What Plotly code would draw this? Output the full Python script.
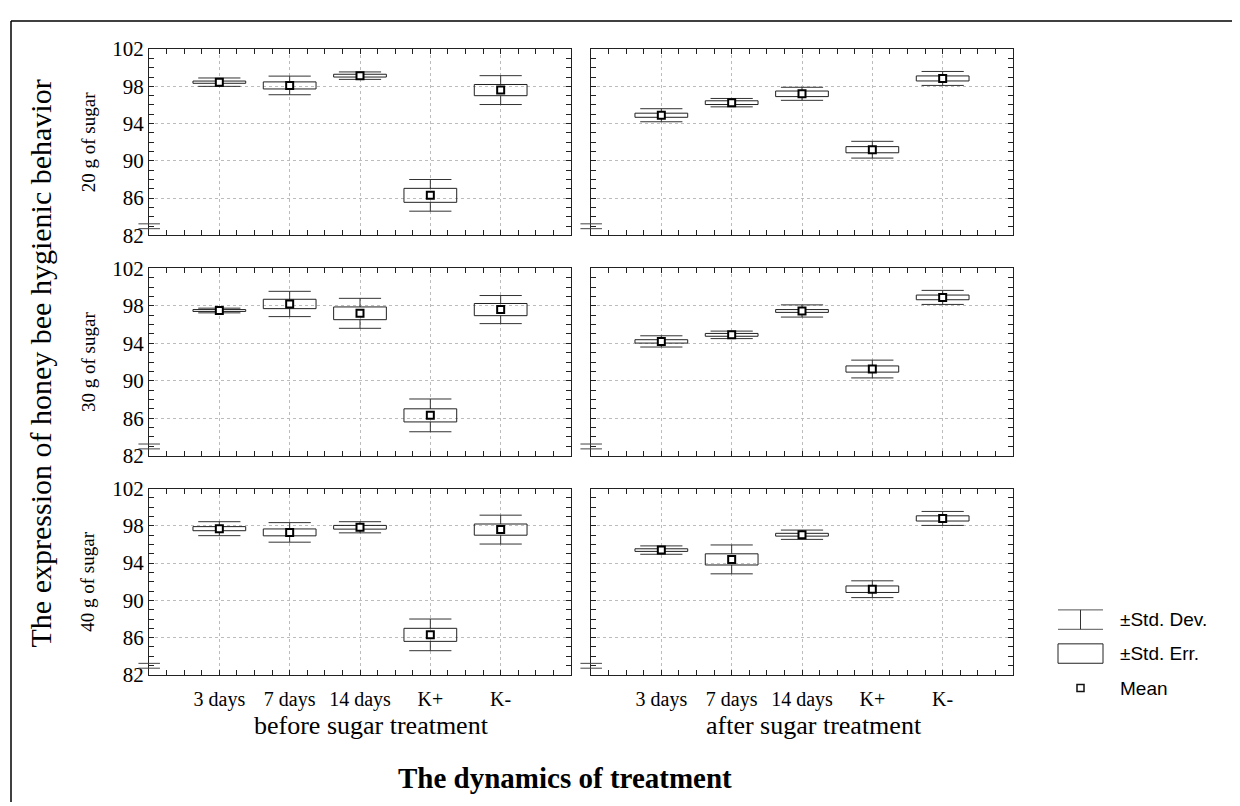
import plotly.graph_objects as go

categories = ["3 days", "7 days", "14 days", "K+", "K-"]
group_labels = ["before sugar treatment", "after sugar treatment"]
row_labels = ["20 g of sugar", "30 g of sugar", "40 g of sugar"]
y_ticks = [82, 86, 90, 94, 98, 102]

mean_20_before = [98.45, 98.1, 99.15, 86.3, 97.6]
se_20_before = [0.12, 0.38, 0.15, 0.75, 0.6]
sd_20_before = [0.45, 1.0, 0.4, 1.7, 1.55]

mean_20_after = [94.9, 96.25, 97.2, 91.2, 98.85]
se_20_after = [0.22, 0.2, 0.3, 0.33, 0.27]
sd_20_after = [0.7, 0.45, 0.7, 0.9, 0.75]

mean_30_before = [97.5, 98.2, 97.2, 86.3, 97.6]
se_30_before = [0.1, 0.5, 0.68, 0.7, 0.65]
sd_30_before = [0.25, 1.35, 1.6, 1.75, 1.5]

mean_30_after = [94.2, 94.9, 97.45, 91.25, 98.9]
se_30_after = [0.18, 0.15, 0.15, 0.33, 0.25]
sd_30_after = [0.6, 0.4, 0.65, 0.95, 0.75]

mean_40_before = [97.7, 97.3, 97.85, 86.3, 97.6]
se_40_before = [0.22, 0.37, 0.2, 0.7, 0.6]
sd_40_before = [0.75, 1.05, 0.6, 1.7, 1.55]

mean_40_after = [95.4, 94.4, 97.05, 91.2, 98.8]
se_40_after = [0.14, 0.6, 0.15, 0.35, 0.28]
sd_40_after = [0.45, 1.55, 0.5, 0.9, 0.75]

panels = [
    (mean_20_before, se_20_before, sd_20_before),
    (mean_20_after, se_20_after, sd_20_after),
    (mean_30_before, se_30_before, sd_30_before),
    (mean_30_after, se_30_after, sd_30_after),
    (mean_40_before, se_40_before, sd_40_before),
    (mean_40_after, se_40_after, sd_40_after),
]

W, H = 1240, 806
OFF = 8  # page body margin shifts the figure by 8px; positions below are in screen pixels
col_px = [(149, 571), (591, 1013)]
row_px = [(38, 230), (264, 457), (491, 683)]
BOX_HW = 0.375
CAP_HW = 0.3
SERIF = "Liberation Serif, Times New Roman, serif"
SANS = "Liberation Sans, Arial, sans-serif"
LINE = "#222222"


def px(x):
    return (x - OFF) / W


def py(y):
    return 1 - (y - OFF) / H


fig = go.Figure()
layout = {}
shapes = []
annotations = []

for k, (means, ses, sds) in enumerate(panels):
    r, c = divmod(k, 2)
    idx = k + 1
    xa = "x" if idx == 1 else f"x{idx}"
    ya = "y" if idx == 1 else f"y{idx}"
    xpos = list(range(1, len(categories) + 1))

    wx, wy = [], []
    bx, by = [], []
    for x, m, se, sd in zip(xpos, means, ses, sds):
        for yy in (m + sd, m - sd):
            wx += [x - CAP_HW, x + CAP_HW, None]
            wy += [yy, yy, None]
        wx += [x, x, None, x, x, None]
        wy += [m + se, m + sd, None, m - se, m - sd, None]
        bx += [x - BOX_HW, x + BOX_HW, x + BOX_HW, x - BOX_HW, x - BOX_HW, None]
        by += [m - se, m - se, m + se, m + se, m - se, None]

    fig.add_trace(go.Scatter(x=wx, y=wy, mode="lines", line=dict(color="#333333", width=1),
                             xaxis=xa, yaxis=ya, showlegend=False, hoverinfo="skip"))
    fig.add_trace(go.Scatter(x=bx, y=by, mode="lines", line=dict(color=LINE, width=1),
                             xaxis=xa, yaxis=ya, showlegend=False, hoverinfo="skip"))
    fig.add_trace(go.Scatter(x=xpos, y=means, mode="markers",
                             marker=dict(symbol="square", size=7, color="white",
                                         line=dict(color="black", width=2)),
                             xaxis=xa, yaxis=ya, showlegend=False))

    x0, x1 = col_px[c]
    y0, y1 = row_px[r]
    xkey = "xaxis" if idx == 1 else f"xaxis{idx}"
    ykey = "yaxis" if idx == 1 else f"yaxis{idx}"
    layout[xkey] = dict(
        domain=[px(x0), px(x1)], anchor=ya, range=[0, 6],
        tickvals=xpos, ticktext=categories, showticklabels=(r == 2),
        ticks="inside", ticklen=5, tickcolor=LINE,
        minor=dict(dtick=0.25, tick0=0, ticks="inside", ticklen=5, tickcolor=LINE, showgrid=False),
        showgrid=True, gridcolor="#bcbcbc", griddash="dot", gridwidth=1,
        showline=True, linecolor=LINE, linewidth=1, mirror="allticks",
        zeroline=False, tickfont=dict(family=SERIF, size=20, color="black"),
        ticklabelstandoff=6,
    )
    layout[ykey] = dict(
        domain=[py(y1), py(y0)], anchor=xa, range=[82, 102],
        tickvals=y_ticks, showticklabels=(c == 0),
        ticks="inside", ticklen=5, tickcolor=LINE,
        minor=dict(dtick=1, tick0=82, ticks="inside", ticklen=5, tickcolor=LINE, showgrid=False),
        showgrid=True, gridcolor="#bcbcbc", griddash="dot", gridwidth=1,
        showline=True, linecolor=LINE, linewidth=1, mirror="allticks",
        zeroline=False, tickfont=dict(family=SERIF, size=21, color="black"),
    )
    # axis-break marks
    for yd in (0.062, 0.036):
        shapes.append(dict(type="line", xref=f"{xa} domain", yref=f"{ya} domain",
                           x0=-0.025, x1=0.026, y0=yd, y1=yd,
                           line=dict(color="#444444", width=1)))

# row labels
for r, lab in enumerate(row_labels):
    y0, y1 = row_px[r]
    annotations.append(dict(text=lab, xref="paper", yref="paper", x=px(88), y=py((y0 + y1) / 2),
                            showarrow=False, textangle=-90, xanchor="center", yanchor="middle",
                            font=dict(family=SERIF, size=19, color="black")))

# group labels
for c, lab in enumerate(group_labels):
    x0, x1 = col_px[c]
    annotations.append(dict(text=lab, xref="paper", yref="paper", x=px((x0 + x1) / 2 + 12),
                            y=py(735), showarrow=False, xanchor="center", yanchor="middle",
                            font=dict(family=SERIF, size=26, color="black")))

# axis titles
annotations.append(dict(text="<b>The dynamics of treatment</b>", xref="paper", yref="paper",
                        x=px(565), y=py(789), showarrow=False, xanchor="center", yanchor="middle",
                        font=dict(family=SERIF, size=29, color="black")))
annotations.append(dict(text="The expression of honey bee hygienic behavior", xref="paper", yref="paper",
                        x=px(40), y=py(362), showarrow=False, textangle=-90,
                        xanchor="center", yanchor="middle",
                        font=dict(family=SERIF, size=30, color="black")))

# legend (drawn)
shapes += [
    dict(type="line", xref="paper", yref="paper", x0=px(1058), x1=px(1103), y0=py(616), y1=py(616),
         line=dict(color="#555555", width=1)),
    dict(type="line", xref="paper", yref="paper", x0=px(1058), x1=px(1103), y0=py(636), y1=py(636),
         line=dict(color="#555555", width=1)),
    dict(type="line", xref="paper", yref="paper", x0=px(1080.5), x1=px(1080.5), y0=py(616), y1=py(636),
         line=dict(color="#333333", width=1)),
    dict(type="rect", xref="paper", yref="paper", x0=px(1058), x1=px(1103), y0=py(651), y1=py(671),
         line=dict(color="#222222", width=1)),
    dict(type="rect", xref="paper", yref="paper", x0=px(1077), x1=px(1084), y0=py(693), y1=py(700),
         line=dict(color="#111111", width=1.5)),
    # outer frame
    dict(type="line", xref="paper", yref="paper", x0=px(11), x1=1.0, y0=py(9), y1=py(9),
         line=dict(color="black", width=1.5)),
    dict(type="line", xref="paper", yref="paper", x0=px(11), x1=px(11), y0=py(9), y1=0,
         line=dict(color="black", width=1.5)),
]
for lab, yc in (("±Std. Dev.", 626), ("±Std. Err.", 661), ("Mean", 697)):
    annotations.append(dict(text=lab, xref="paper", yref="paper", x=px(1118), y=py(yc),
                            showarrow=False, xanchor="left", yanchor="middle",
                            font=dict(family=SANS, size=19, color="black")))

fig.update_layout(
    width=W, height=H, margin=dict(l=0, r=0, t=0, b=0),
    paper_bgcolor="white", plot_bgcolor="white",
    shapes=shapes, annotations=annotations, showlegend=False,
    **layout,
)

fig.write_html("out.html")
